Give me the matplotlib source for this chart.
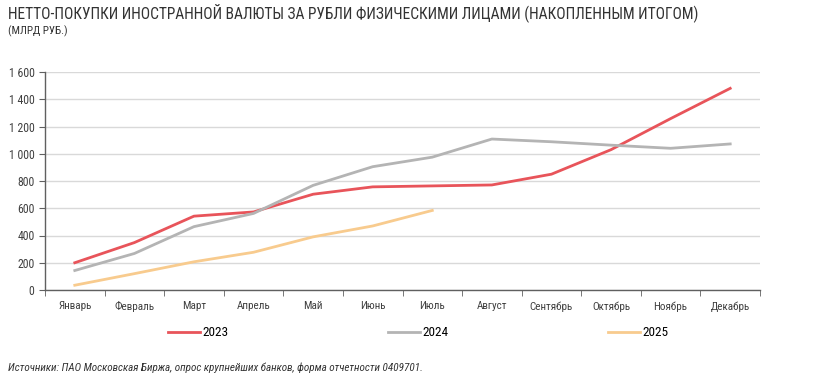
import matplotlib
matplotlib.use("Agg")
import matplotlib.pyplot as plt
import numpy as np

months = ["Январь", "Февраль", "Март", "Апрель", "Май", "Июнь", "Июль",
          "Август", "Сентябрь", "Октябрь", "Ноябрь", "Декабрь"]
y2023 = [200, 348, 542, 573, 703, 757, 764, 771, 850, 1030, 1258, 1480]
y2024 = [143, 268, 465, 562, 768, 905, 975, 1108, 1088, 1063, 1040, 1072]
y2025 = [35, 120, 207, 277, 390, 470, 584]

narrow = ["Roboto Condensed", "PT Sans Narrow", "Fira Sans Condensed", "DejaVu Sans"]
plt.rcParams["font.family"] = narrow

fig = plt.figure(figsize=(8.19, 3.82), dpi=100)
ax = fig.add_axes([45 / 819, 1 - 290 / 382, 715 / 819, 218 / 382])

x = np.arange(len(months))
ax.plot(x, y2023, color="#e8545a", lw=2, label="2023")
ax.plot(x[:len(y2024)], y2024, color="#b4b4b4", lw=2, label="2024")
ax.plot(x[:len(y2025)], y2025, color="#f8cb8e", lw=2, label="2025")

ax.set_xlim(-0.5, 11.5)
ax.set_ylim(0, 1600)
ax.set_yticks(range(0, 1601, 200))
ax.set_yticklabels(["0", "200", "400", "600", "800", "1 000", "1 200", "1 400", "1 600"])
ax.grid(axis="y", color="#d9d9d9", lw=1)
ax.set_axisbelow(True)

ax.set_xticks(x)
ax.set_xticklabels(months, fontsize=8, color="#404040")
ax.tick_params(axis="x", length=0, pad=8)
ax.set_xticks(np.arange(-0.5, 12, 1), minor=True)
ax.tick_params(axis="x", which="minor", length=4, color="#606060", direction="out")
ax.tick_params(axis="y", labelsize=8.5, labelcolor="#404040", length=4, color="#606060")

for s in ["top", "right"]:
    ax.spines[s].set_visible(False)
for s in ["left", "bottom"]:
    ax.spines[s].set_color("#606060")
    ax.spines[s].set_linewidth(1)

fig.legend(loc="center left", bbox_to_anchor=(168 / 819, 1 - 333 / 382), ncol=3,
           frameon=False, fontsize=9.5, handlelength=2.4, borderpad=0,
           borderaxespad=0, columnspacing=12.1, handletextpad=0.2)

fig.text(8 / 819, 1 - 13 / 382,
         "НЕТТО-ПОКУПКИ ИНОСТРАННОЙ ВАЛЮТЫ ЗА РУБЛИ ФИЗИЧЕСКИМИ ЛИЦАМИ (НАКОПЛЕННЫМ ИТОГОМ)",
         fontsize=11.2, color="#333333", va="center", ha="left")
fig.text(8 / 819, 1 - 31 / 382, "(МЛРД РУБ.)", fontsize=8, color="#333333",
         va="center", ha="left")
fig.text(8 / 819, 1 - 368 / 382,
         "Источники: ПАО Московская Биржа, опрос крупнейших банков, форма отчетности 0409701.",
         fontsize=8, color="#333333", style="italic", va="center", ha="left")

fig.savefig("out.png", dpi=100)
